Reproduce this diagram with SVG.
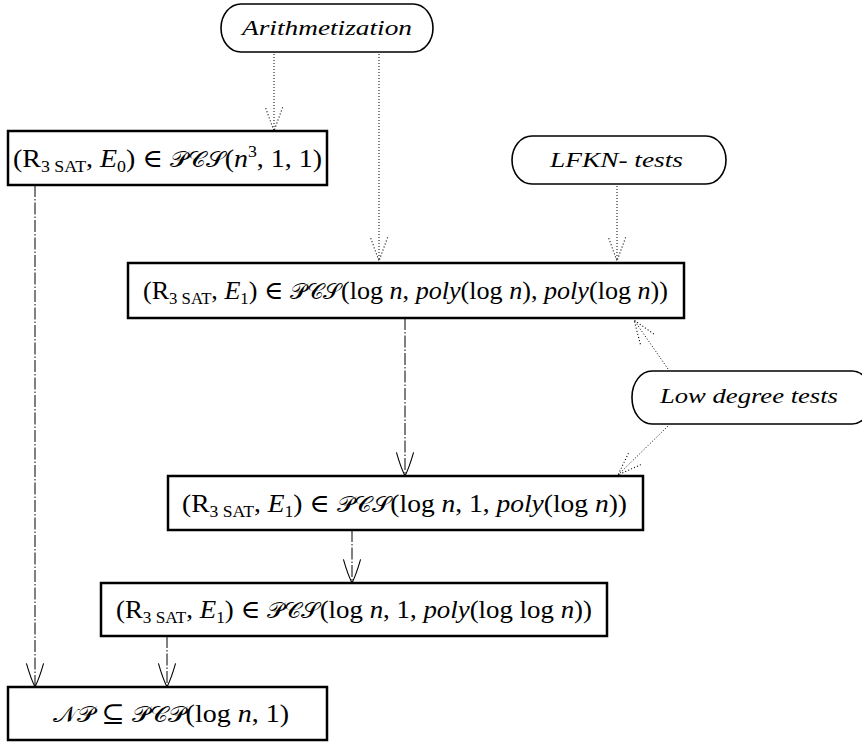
<svg xmlns="http://www.w3.org/2000/svg" width="862" height="742" viewBox="0 0 862 742">
<style>
text{font-family:"Liberation Serif","DejaVu Serif",serif;font-size:25px;fill:#000}
.it{font-style:italic}
.sub{font-size:16px}
.sup{font-size:16px}
.cal{font-family:"DejaVu Sans","DejaVu Serif","Noto Sans",serif;font-size:22px}
.lbl{font-style:italic;font-size:21px}
.box{fill:#fff;stroke:#000;stroke-width:2.5}
.rbox{fill:#fff;stroke:#000;stroke-width:1.6}
.dot{fill:none;stroke:#000;stroke-width:1;stroke-dasharray:1 2}
.dd{fill:none;stroke:#000;stroke-width:1;stroke-dasharray:12 2 1.5 2}
</style>
<defs>
<marker id="ad" markerUnits="userSpaceOnUse" markerWidth="30" markerHeight="30" refX="0" refY="0" viewBox="-24 -12 28 24" orient="auto" overflow="visible">
<path d="M-22,-8 L0,0 L-22,8" fill="none" stroke="#000" stroke-width="1" stroke-dasharray="1 2"/>
</marker>
<marker id="as" markerUnits="userSpaceOnUse" markerWidth="30" markerHeight="30" refX="0" refY="0" viewBox="-24 -12 28 24" orient="auto" overflow="visible">
<path d="M-22,-8 Q-8,-4 0,0 Q-8,4 -22,8" fill="none" stroke="#000" stroke-width="1"/>
</marker>
</defs>
<g id="connectors">
<line class="dot" x1="274" y1="54" x2="274" y2="131" marker-end="url(#ad)"/>
<line class="dot" x1="379" y1="54" x2="379" y2="261" marker-end="url(#ad)"/>
<line class="dot" x1="617" y1="186" x2="617" y2="261" marker-end="url(#ad)"/>
<line class="dot" x1="668" y1="369" x2="634" y2="320" marker-end="url(#ad)"/>
<line class="dot" x1="668" y1="426" x2="618" y2="475" marker-end="url(#ad)"/>
<line class="dd" x1="405" y1="318" x2="405" y2="476" marker-end="url(#as)"/>
<line class="dd" x1="352" y1="530" x2="352" y2="583" marker-end="url(#as)"/>
<line class="dd" x1="35" y1="185" x2="35" y2="687" marker-end="url(#as)"/>
<line class="dd" x1="167" y1="636" x2="167" y2="687" marker-end="url(#as)"/>
</g>
<g id="arithmetization">
<rect class="rbox" x="221" y="4" width="212" height="48" rx="20" ry="24"/>
<text class="lbl" x="242" y="35" textLength="170" lengthAdjust="spacingAndGlyphs">Arithmetization</text>
</g>
<g id="lfkn">
<rect class="rbox" x="512" y="136" width="214" height="48" rx="20" ry="24"/>
<text class="lbl" x="550" y="167" textLength="133" lengthAdjust="spacingAndGlyphs">LFKN<tspan font-style="normal">-</tspan> tests</text>
</g>
<g id="lowdegree">
<rect class="rbox" x="632" y="371" width="240" height="53" rx="20" ry="26"/>
<text class="lbl" x="660" y="403" textLength="178" lengthAdjust="spacingAndGlyphs">Low degree tests</text>
</g>
<g id="box1">
<rect class="box" x="8" y="131" width="319" height="54"/>
<text x="13" y="167" textLength="309" lengthAdjust="spacingAndGlyphs">(R<tspan class="sub" dy="5">3 SAT</tspan><tspan dy="-5">, </tspan><tspan class="it">E</tspan><tspan class="sub" dy="5">0</tspan><tspan dy="-5">) ∈ </tspan><tspan class="cal">𝒫𝒞𝒮</tspan>(<tspan class="it">n</tspan><tspan class="sup" dy="-10">3</tspan><tspan dy="10">, 1, 1)</tspan></text>
</g>
<g id="box2">
<rect class="box" x="128" y="263" width="556" height="55"/>
<text x="143" y="299" textLength="525" lengthAdjust="spacingAndGlyphs">(R<tspan class="sub" dy="5">3 SAT</tspan><tspan dy="-5">, </tspan><tspan class="it">E</tspan><tspan class="sub" dy="5">1</tspan><tspan dy="-5">) ∈ </tspan><tspan class="cal">𝒫𝒞𝒮</tspan>(log <tspan class="it">n</tspan>, <tspan class="it">poly</tspan>(log <tspan class="it">n</tspan>), <tspan class="it">poly</tspan>(log <tspan class="it">n</tspan>))</text>
</g>
<g id="box3">
<rect class="box" x="168" y="476" width="475" height="54"/>
<text x="182" y="512" textLength="445" lengthAdjust="spacingAndGlyphs">(R<tspan class="sub" dy="5">3 SAT</tspan><tspan dy="-5">, </tspan><tspan class="it">E</tspan><tspan class="sub" dy="5">1</tspan><tspan dy="-5">) ∈ </tspan><tspan class="cal">𝒫𝒞𝒮</tspan>(log <tspan class="it">n</tspan>, 1, <tspan class="it">poly</tspan>(log <tspan class="it">n</tspan>))</text>
</g>
<g id="box4">
<rect class="box" x="101" y="583" width="506" height="53"/>
<text x="116" y="618" textLength="476" lengthAdjust="spacingAndGlyphs">(R<tspan class="sub" dy="5">3 SAT</tspan><tspan dy="-5">, </tspan><tspan class="it">E</tspan><tspan class="sub" dy="5">1</tspan><tspan dy="-5">) ∈ </tspan><tspan class="cal">𝒫𝒞𝒮</tspan>(log <tspan class="it">n</tspan>, 1, <tspan class="it">poly</tspan>(log log <tspan class="it">n</tspan>))</text>
</g>
<g id="box5">
<rect class="box" x="8" y="687" width="319" height="53"/>
<text x="53" y="722" textLength="236" lengthAdjust="spacingAndGlyphs"><tspan class="cal">𝒩𝒫</tspan> ⊆ <tspan class="cal">𝒫𝒞𝒫</tspan>(log <tspan class="it">n</tspan>, 1)</text>
</g>
</svg>
